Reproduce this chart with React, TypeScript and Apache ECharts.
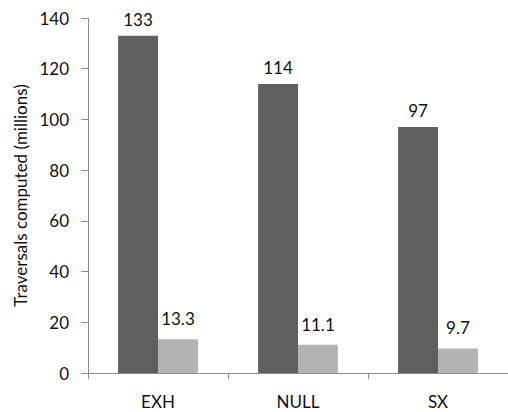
import React, { useEffect, useRef } from "react";
import * as echarts from "echarts";

const categories = ["EXH", "NULL", "SX"];
const seriesA = [133, 114, 97];
const seriesB = [13.3, 11.1, 9.7];
const yTicks = { min: 0, max: 140, interval: 20 };
const yName = "Traversals computed (millions)";

export default function App() {
  const ref = useRef<HTMLDivElement>(null);
  useEffect(() => {
    const chart = echarts.init(ref.current!, undefined, { renderer: "svg" });
    const font = "Lato, 'Open Sans', sans-serif";
    chart.setOption({
      animation: false,
      grid: { left: 88, right: -6, top: 18, bottom: 39 },
      xAxis: {
        type: "category",
        data: categories,
        axisLine: { lineStyle: { color: "#8c8c8c", width: 1 } },
        axisTick: { show: true, length: 6, lineStyle: { color: "#8c8c8c" } },
        axisLabel: { color: "#111", fontSize: 17, fontFamily: font, margin: 20 },
      },
      yAxis: {
        type: "value",
        min: yTicks.min,
        max: yTicks.max,
        interval: yTicks.interval,
        name: yName,
        nameLocation: "middle",
        nameRotate: 90,
        nameGap: 59,
        nameTextStyle: { color: "#111", fontSize: 17, fontFamily: font },
        axisLine: { show: true, lineStyle: { color: "#8c8c8c", width: 1 } },
        axisTick: { show: true, length: 7, lineStyle: { color: "#8c8c8c" } },
        splitLine: { show: false },
        axisLabel: { color: "#111", fontSize: 17, fontFamily: font, margin: 19 },
      },
      series: [
        {
          type: "bar",
          data: seriesA,
          barGap: "0%",
          barCategoryGap: "43%",
          itemStyle: { color: "#5f5f5f" },
          label: { show: true, position: "top", distance: 8, color: "#111", fontSize: 17, fontFamily: font },
        },
        {
          type: "bar",
          data: seriesB,
          itemStyle: { color: "#b3b3b3" },
          label: { show: true, position: "top", distance: 12, color: "#111", fontSize: 17, fontFamily: font },
        },
      ],
    });
    return () => chart.dispose();
  }, []);
  return <div ref={ref} style={{ width: 508, height: 412, position: "absolute", left: 0, top: 0 }} />;
}
